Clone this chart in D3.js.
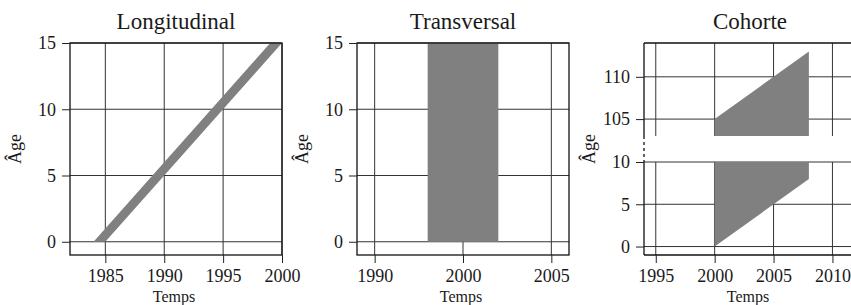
<!DOCTYPE html>
<html>
<head>
<meta charset="utf-8">
<script src="https://cdn.jsdelivr.net/npm/d3@7"></script>
<style>
  html, body { margin: 0; padding: 0; background: #fff; }
  svg { display: block; }
</style>
</head>
<body>
<svg id="chart" width="851" height="305"></svg>
<script>
// ---------- data ----------
const panelTitles = ["Longitudinal", "Transversal", "Cohorte"];
const xAxisTitle = "Temps";
const yAxisTitle = "Âge";

// Longitudinal
const longDomainX = [1982, 2000];
const longDomainY = [-1, 15];
const longTicksX = [1985, 1990, 1995, 2000];
const longTicksY = [0, 5, 10, 15];
const longBandTime = [1984, 1985, 2000, 1999];
const longBandAge = [0, 0, 15, 15];

// Transversal
const transDomainX = [1994, 2006];
const transDomainY = [-1, 15];
const transTicksX = [1995, 2000, 2005];
const transTickLabelsX = ["1990", "2000", "2005"];
const transTicksY = [0, 5, 10, 15];
const transBandTime = [1998, 2002, 2002, 1998];
const transBandAge = [0, 0, 15, 15];

// Cohorte (broken age axis)
const cohDomainX = [1994, 2012];
const cohDomainYLow = [-1, 10];
const cohDomainYHigh = [103, 114];
const cohTicksX = [1995, 2000, 2005, 2010];
const cohTicksYLow = [0, 5, 10];
const cohTicksYHigh = [105, 110];
const cohLowTime = [2000, 2008, 2008, 2000];
const cohLowAge = [0, 8, 10, 10];
const cohHighTime = [2000, 2008, 2008, 2000];
const cohHighAge = [103, 103, 113, 105];

// ---------- layout ----------
const FONT = "Liberation Serif";
const svg = d3.select("#chart");
const plotTop = 43, plotBottom = 255, pw = 212;
const lefts = [70, 357, 644];
const tickLen = 8;
const bandColor = "#808080";
const gridColor = "#333333";
const textColor = "#1a1a1a";

function addText(g, size) {
  return g.append("text").attr("font-family", FONT).attr("font-size", size).attr("fill", textColor);
}

function drawCommonText(g, i, x0) {
  addText(g, 23).attr("x", x0 + pw / 2).attr("y", 29)
    .attr("text-anchor", "middle").text(panelTitles[i]);
  addText(g, 16).attr("x", x0 + pw / 2 - 2).attr("y", 302)
    .attr("text-anchor", "middle").text(xAxisTitle);
  addText(g, 18)
    .attr("transform", `translate(${x0 - 49},${(plotTop + plotBottom) / 2}) rotate(-90)`)
    .attr("text-anchor", "middle").text(yAxisTitle);
}

function styleAxis(sel) {
  sel.attr("font-family", FONT).attr("font-size", 18);
  sel.select(".domain").remove();
  sel.selectAll(".tick line").attr("stroke", "#222").attr("stroke-width", 1);
  sel.selectAll(".tick text").attr("font-family", FONT).attr("font-size", 18).attr("fill", textColor);
}

function simplePanel(i, domX, domY, ticksX, ticksY, tickLabelsX, bandT, bandA) {
  const x0 = lefts[i];
  const g = svg.append("g");
  const x = d3.scaleLinear().domain(domX).range([x0, x0 + pw]);
  const y = d3.scaleLinear().domain(domY).range([plotBottom, plotTop]);

  g.selectAll(".gx").data(ticksX).join("line")
    .attr("x1", d => x(d)).attr("x2", d => x(d))
    .attr("y1", plotTop).attr("y2", plotBottom)
    .attr("stroke", gridColor).attr("stroke-width", 1);
  g.selectAll(".gy").data(ticksY).join("line")
    .attr("x1", x0).attr("x2", x0 + pw)
    .attr("y1", d => y(d)).attr("y2", d => y(d))
    .attr("stroke", gridColor).attr("stroke-width", 1);

  const pts = bandT.map((t, k) => [x(t), y(bandA[k])]);
  g.append("polygon").attr("points", pts.map(p => p.join(",")).join(" "))
    .attr("fill", bandColor);

  g.append("rect").attr("x", x0).attr("y", plotTop).attr("width", pw).attr("height", plotBottom - plotTop)
    .attr("fill", "none").attr("stroke", "#111").attr("stroke-width", 1.3);

  const ax = d3.axisBottom(x).tickValues(ticksX).tickSize(tickLen).tickPadding(6);
  if (tickLabelsX) ax.tickFormat((d, k) => tickLabelsX[k]);
  else ax.tickFormat(d3.format("d"));
  g.append("g").attr("transform", `translate(0,${plotBottom})`).call(ax).call(styleAxis);
  const ay = d3.axisLeft(y).tickValues(ticksY).tickSize(tickLen).tickPadding(6).tickFormat(d3.format("d"));
  g.append("g").attr("transform", `translate(${x0},0)`).call(ay).call(styleAxis);

  drawCommonText(g, i, x0);
}

simplePanel(0, longDomainX, longDomainY, longTicksX, longTicksY, null, longBandTime, longBandAge);
simplePanel(1, transDomainX, transDomainY, transTicksX, transTicksY, transTickLabelsX, transBandTime, transBandAge);

// Cohorte panel
(function () {
  const i = 2, x0 = lefts[i];
  const g = svg.append("g");
  const gap = 26;
  const seg = (plotBottom - plotTop - gap) / 2;
  const x = d3.scaleLinear().domain(cohDomainX).range([x0, x0 + pw]);
  const yLow = d3.scaleLinear().domain(cohDomainYLow).range([plotBottom, plotBottom - seg]);
  const yHigh = d3.scaleLinear().domain(cohDomainYHigh).range([plotTop + seg, plotTop]);
  const lowTop = plotBottom - seg, highBottom = plotTop + seg;

  g.selectAll(".gx1").data(cohTicksX).join("line")
    .attr("x1", d => x(d)).attr("x2", d => x(d)).attr("y1", plotTop).attr("y2", highBottom)
    .attr("stroke", gridColor).attr("stroke-width", 1);
  g.selectAll(".gx2").data(cohTicksX).join("line")
    .attr("x1", d => x(d)).attr("x2", d => x(d)).attr("y1", lowTop).attr("y2", plotBottom)
    .attr("stroke", gridColor).attr("stroke-width", 1);
  g.selectAll(".gy1").data(cohTicksYLow).join("line")
    .attr("x1", x0).attr("x2", x0 + pw).attr("y1", d => yLow(d)).attr("y2", d => yLow(d))
    .attr("stroke", gridColor).attr("stroke-width", 1);
  g.selectAll(".gy2").data(cohTicksYHigh).join("line")
    .attr("x1", x0).attr("x2", x0 + pw).attr("y1", d => yHigh(d)).attr("y2", d => yHigh(d))
    .attr("stroke", gridColor).attr("stroke-width", 1);

  const lowPts = cohLowTime.map((t, k) => [x(t), yLow(cohLowAge[k])]);
  const highPts = cohHighTime.map((t, k) => [x(t), yHigh(cohHighAge[k])]);
  [lowPts, highPts].forEach(pts => {
    g.append("polygon").attr("points", pts.map(p => p.join(",")).join(" ")).attr("fill", bandColor);
  });

  const bc = "#111", bw = 1.3;
  g.append("line").attr("x1", x0).attr("x2", x0 + pw).attr("y1", plotTop).attr("y2", plotTop).attr("stroke", bc).attr("stroke-width", bw);
  g.append("line").attr("x1", x0).attr("x2", x0 + pw).attr("y1", plotBottom).attr("y2", plotBottom).attr("stroke", bc).attr("stroke-width", bw);
  g.append("line").attr("x1", x0 + pw).attr("x2", x0 + pw).attr("y1", plotTop).attr("y2", plotBottom).attr("stroke", bc).attr("stroke-width", bw);
  g.append("line").attr("x1", x0).attr("x2", x0).attr("y1", plotTop).attr("y2", highBottom).attr("stroke", bc).attr("stroke-width", bw);
  g.append("line").attr("x1", x0).attr("x2", x0).attr("y1", lowTop).attr("y2", plotBottom).attr("stroke", bc).attr("stroke-width", bw);
  g.append("line").attr("x1", x0).attr("x2", x0).attr("y1", highBottom).attr("y2", lowTop)
    .attr("stroke", bc).attr("stroke-width", bw).attr("stroke-dasharray", "3,3");

  g.append("g").attr("transform", `translate(0,${plotBottom})`)
    .call(d3.axisBottom(x).tickValues(cohTicksX).tickSize(tickLen).tickPadding(6).tickFormat(d3.format("d")))
    .call(styleAxis);
  g.append("g").attr("transform", `translate(${x0},0)`)
    .call(d3.axisLeft(yLow).tickValues(cohTicksYLow).tickSize(tickLen).tickPadding(6).tickFormat(d3.format("d")))
    .call(styleAxis);
  g.append("g").attr("transform", `translate(${x0},0)`)
    .call(d3.axisLeft(yHigh).tickValues(cohTicksYHigh).tickSize(tickLen).tickPadding(6).tickFormat(d3.format("d")))
    .call(styleAxis);

  drawCommonText(g, i, x0);
})();
</script>
</body>
</html>
